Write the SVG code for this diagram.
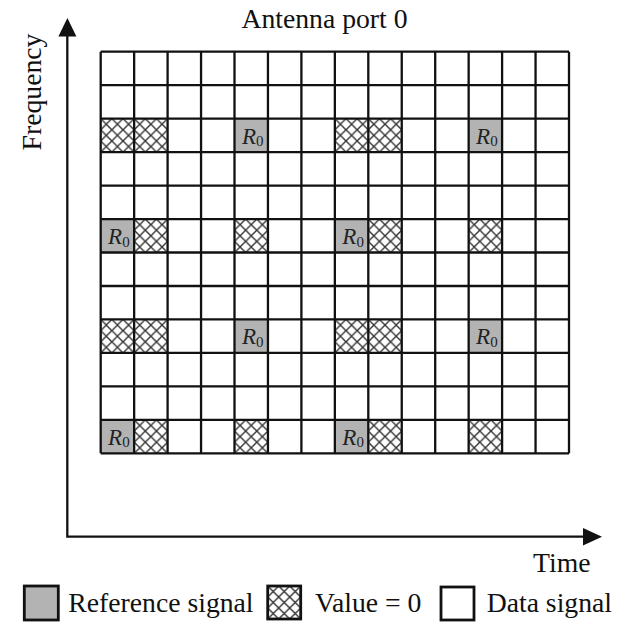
<svg xmlns="http://www.w3.org/2000/svg" width="623" height="622" viewBox="0 0 623 622">
  <style>
    .lbl { font-family: "Liberation Serif", "Times New Roman", serif; font-size: 27.7px; fill: #111; }
    .r0 { font-family: "Liberation Serif", "Times New Roman", serif; font-size: 23px; font-style: italic; fill: #222; text-anchor: middle; }
    .r0 tspan { font-style: normal; font-size: 15px; }
    .ref { fill: #b3b3b3; }
    .zero { fill: url(#hatch); }
    .gridline { fill: none; stroke: #111; stroke-width: 2.3; }
    .axis { fill: none; stroke: #111; stroke-width: 2.3; }
    .head { fill: #111; }
    .key { stroke: #111; stroke-width: 2.8; }
  </style>
  <defs>
    <!-- diagonal cross-hatch, three periods per resource element -->
    <pattern id="hatch" patternUnits="userSpaceOnUse" x="100.7" y="51.7" width="11.15" height="11.157">
      <rect width="11.15" height="11.157" fill="#fff"/>
      <path d="M0,0 L11.15,11.157 M11.15,0 L0,11.157" stroke="#333" stroke-width="1.4" fill="none"/>
    </pattern>
    <pattern id="hatchKey" patternUnits="userSpaceOnUse" x="267.7" y="586" width="11" height="11">
      <rect width="11" height="11" fill="#fff"/>
      <path d="M0,0 L11,11 M11,0 L0,11" stroke="#333" stroke-width="1.4" fill="none"/>
    </pattern>
  </defs>

  <rect width="623" height="622" fill="#fff"/>

  <text class="lbl" x="324.5" y="28" text-anchor="middle">Antenna port 0</text>

  <!-- resource grid: 14 symbols x 12 subcarriers -->
  <g id="resource-grid">
    <rect x="100.7" y="51.7" width="468.3" height="401.64" fill="#fff"/>

    <!-- reference signal elements -->
    <g id="ref-cells">
      <rect class="ref" x="234.5" y="118.64" width="33.45" height="33.47"/>
      <rect class="ref" x="468.65" y="118.64" width="33.45" height="33.47"/>
      <rect class="ref" x="100.7" y="219.05" width="33.45" height="33.47"/>
      <rect class="ref" x="334.85" y="219.05" width="33.45" height="33.47"/>
      <rect class="ref" x="234.5" y="319.46" width="33.45" height="33.47"/>
      <rect class="ref" x="468.65" y="319.46" width="33.45" height="33.47"/>
      <rect class="ref" x="100.7" y="419.87" width="33.45" height="33.47"/>
      <rect class="ref" x="334.85" y="419.87" width="33.45" height="33.47"/>
    </g>

    <!-- zero-valued elements -->
    <g id="zero-cells">
      <rect class="zero" x="100.7" y="118.64" width="66.9" height="33.47"/>
      <rect class="zero" x="334.85" y="118.64" width="66.9" height="33.47"/>
      <rect class="zero" x="134.15" y="219.05" width="33.45" height="33.47"/>
      <rect class="zero" x="234.5" y="219.05" width="33.45" height="33.47"/>
      <rect class="zero" x="368.3" y="219.05" width="33.45" height="33.47"/>
      <rect class="zero" x="468.65" y="219.05" width="33.45" height="33.47"/>
      <rect class="zero" x="100.7" y="319.46" width="66.9" height="33.47"/>
      <rect class="zero" x="334.85" y="319.46" width="66.9" height="33.47"/>
      <rect class="zero" x="134.15" y="419.87" width="33.45" height="33.47"/>
      <rect class="zero" x="234.5" y="419.87" width="33.45" height="33.47"/>
      <rect class="zero" x="368.3" y="419.87" width="33.45" height="33.47"/>
      <rect class="zero" x="468.65" y="419.87" width="33.45" height="33.47"/>
    </g>

    <!-- grid lines -->
    <path class="gridline" d="
      M100.7,51.7 V453.34 M134.15,51.7 V453.34 M167.6,51.7 V453.34 M201.05,51.7 V453.34
      M234.5,51.7 V453.34 M267.95,51.7 V453.34 M301.4,51.7 V453.34 M334.85,51.7 V453.34
      M368.3,51.7 V453.34 M401.75,51.7 V453.34 M435.2,51.7 V453.34 M468.65,51.7 V453.34
      M502.1,51.7 V453.34 M535.55,51.7 V453.34 M569,51.7 V453.34
      M100.7,51.7 H569 M100.7,85.17 H569 M100.7,118.64 H569 M100.7,152.11 H569
      M100.7,185.58 H569 M100.7,219.05 H569 M100.7,252.52 H569 M100.7,285.99 H569
      M100.7,319.46 H569 M100.7,352.93 H569 M100.7,386.4 H569 M100.7,419.87 H569
      M100.7,453.34 H569"/>

    <!-- R0 labels -->
    <g id="ref-labels">
      <text class="r0" x="252.7" y="143.6">R<tspan dy="2.5">0</tspan></text>
      <text class="r0" x="486.9" y="143.6">R<tspan dy="2.5">0</tspan></text>
      <text class="r0" x="118.9" y="244">R<tspan dy="2.5">0</tspan></text>
      <text class="r0" x="353.1" y="244">R<tspan dy="2.5">0</tspan></text>
      <text class="r0" x="252.7" y="344.4">R<tspan dy="2.5">0</tspan></text>
      <text class="r0" x="486.9" y="344.4">R<tspan dy="2.5">0</tspan></text>
      <text class="r0" x="118.9" y="444.8">R<tspan dy="2.5">0</tspan></text>
      <text class="r0" x="353.1" y="444.8">R<tspan dy="2.5">0</tspan></text>
    </g>
  </g>

  <!-- axes -->
  <g id="axes">
    <path class="axis" d="M67.3,34 V536.7 H585"/>
    <polygon class="head" points="67.4,18 58.4,36.5 76.4,36.5"/>
    <polygon class="head" points="602,536.7 583,527.9 583,545.5"/>
    <text class="lbl" transform="translate(40.7,92) rotate(-90)" text-anchor="middle">Frequency</text>
    <text class="lbl" x="533" y="571.7">Time</text>
  </g>

  <!-- key -->
  <g id="legend">
    <rect class="key ref" x="24.3" y="586" width="34" height="34"/>
    <text class="lbl" x="68.3" y="612">Reference signal</text>
    <rect class="key" x="267.7" y="586" width="33" height="33" fill="url(#hatchKey)"/>
    <text class="lbl" x="315" y="612">Value = 0</text>
    <rect class="key" x="441" y="587" width="33" height="33" fill="#fff"/>
    <text class="lbl" x="486.7" y="612">Data signal</text>
  </g>
</svg>
